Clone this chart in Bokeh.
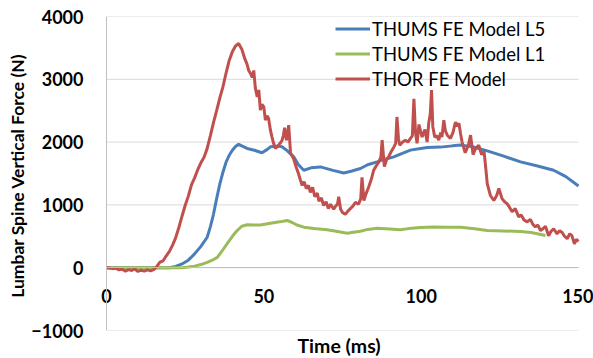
from bokeh.plotting import figure
from bokeh.models import Range1d, FixedTicker, Title, Legend, LegendItem, Span
from bokeh.embed import file_html
from bokeh.resources import INLINE

# ---- data ----
t_l5 = [0, 10, 20, 22, 24, 26, 28, 30, 32, 33, 34, 35, 36, 37, 38, 39, 40, 41, 42, 43,
        44.7, 47, 49.4, 51, 52.1, 54.2, 55.8, 57.5, 59.5, 61, 62.7, 65, 68, 72, 75.4, 78,
        80.7, 83, 86, 88, 91.3, 94, 96.6, 99.8, 102, 106, 110, 112.5, 116, 121, 126,
        131.6, 137, 142.1, 146, 150]
f_l5 = [0, 0, 0, 20, 60, 120, 220, 340, 485, 650, 850, 1100, 1330, 1520, 1680, 1790, 1870,
        1930, 1965, 1940, 1899, 1870, 1830, 1880, 1925, 1936, 1925, 1860, 1765, 1640, 1552,
        1590, 1605, 1550, 1509, 1540, 1579, 1640, 1685, 1720, 1765, 1820, 1872, 1899, 1915,
        1920, 1940, 1952, 1930, 1861, 1780, 1685, 1620, 1552, 1450, 1300]

t_l1 = [0, 10, 20, 24, 26, 28, 30, 32, 34, 35.2, 36.5, 38.3, 40, 41.5, 43, 44.7, 47, 48.9,
        52.1, 55, 57.4, 59, 60.5, 62.7, 66, 70.1, 73, 76.5, 78.5, 80.7, 83, 86, 90, 93.4,
        97, 99.8, 104, 108, 112.5, 117, 121, 126, 131.6, 135, 139.5]
f_l1 = [0, 0, 0, 0, 10, 25, 50, 85, 130, 165, 250, 379, 500, 592, 660, 683, 680, 680,
        709, 730, 752, 720, 680, 645, 625, 603, 580, 549, 565, 581, 610, 629, 615, 603,
        630, 640, 650, 645, 645, 620, 592, 585, 576, 560, 512]

t_thor = [0, 1, 2, 3, 4, 5, 6, 7, 8, 9, 10, 11, 12, 13, 14, 15, 16, 17, 18, 19,
          20, 21, 22, 23, 24, 25, 26, 27, 28, 29, 30, 31, 32, 33, 34, 35, 36, 37, 38, 39,
          40, 41, 42, 43, 44, 44.6, 45.2, 45.8, 46.3, 46.8, 47.3, 47.9, 48.4, 48.9, 49.4, 50,
          50.5, 51, 51.5, 52.1, 52.6, 53.1, 53.7, 54.3, 54.8, 55.3, 55.8, 56.2, 56.6, 57.2,
          57.6, 57.9, 58.5, 59, 59.5, 60.3, 61, 61.6, 62.2, 62.8, 63.5, 64.2, 64.8, 65.5,
          66.2, 67, 67.5, 68.3, 69, 69.8, 70.5, 71.2, 72.2, 72.8, 73.4, 73.8, 74.4, 75,
          75.9, 76.7, 77.5, 78.3, 79.1, 80.1, 80.8, 81.2, 81.8, 82.5, 83.3, 84.1, 84.9, 85.7,
          86.5, 87.2, 87.6, 88.3, 89, 89.7, 90.5, 91.3, 91.9, 92.3, 92.8, 93.2, 94.1, 95,
          95.8, 96.6, 97.2, 97.7, 98.2, 98.7, 99.3, 100.3, 101.2, 101.9, 102.4, 102.9, 103.3,
          103.7, 104.3, 105, 105.6, 106.2, 106.6, 107.2, 107.7, 108.3, 109.3, 110.1, 110.9,
          111.5, 112, 112.5, 113, 114, 115, 115.7, 116.5, 117.3, 118.3, 119.2, 120, 120.6,
          121, 122, 123.1, 124, 124.7, 125.7, 126.5, 127.3, 128.1, 128.9, 129.9, 131, 131.8,
          132.7, 133.7, 134.7, 135.5, 136.3, 137.1, 137.9, 138.7, 139.5, 140.5, 141.3, 142.1,
          143.2, 144, 144.8, 145.6, 146.4, 147.2, 147.9, 148.7, 149.3, 150]
f_thor = [0, -5, -15, -10, -35, -25, -55, -30, -45, -20, -60, -40, -55, -35, -50, -30, 20, 90, 110, 190,
          260, 360, 480, 640, 820, 990, 1140, 1320, 1430, 1560, 1670, 1760, 1900, 2100, 2310, 2500, 2700, 2880, 3100, 3300,
          3440, 3530, 3570, 3480, 3320, 3250, 3140, 3090, 3030, 3140, 2860, 2720, 2830, 2510, 2600, 2560,
          2350, 2420, 2380, 2190, 2080, 1980, 1900, 1930, 1960, 1990, 2030, 2100, 2230, 2030,
          2150, 2270, 1820, 1780, 1730, 1600, 1500, 1400, 1310, 1370, 1260, 1310, 1200, 1280,
          1130, 1190, 1060, 1110, 990, 1050, 940, 1010, 930, 980, 1010, 1130, 930, 880,
          850, 900, 940, 980, 1040, 1010, 1100, 1440, 1070, 1180, 1280, 1400, 1550, 1620,
          1680, 1760, 2030, 1610, 1720, 1770, 1850, 1920, 1980, 2400, 2050, 1950, 2000, 2030,
          2000, 2060, 2100, 2690, 2150, 1980, 2280, 2080, 2200, 2000, 2300, 2450, 2830,
          2250, 2080, 2100, 2030, 2150, 2080, 2350, 2180, 2110, 2060, 2150, 2320,
          2250, 2300, 2140, 2000, 1830, 1950, 2110, 1800, 1900, 1950, 1800, 1850, 1550,
          1340, 1150, 1070, 1150, 1260, 1100, 1050, 1020, 960, 890, 940, 810, 840,
          760, 730, 770, 690, 650, 680, 590, 620, 660, 510, 580, 620,
          540, 590, 560, 500, 460, 540, 510, 380, 450, 420]

x_ticks = [0, 50, 100, 150]
y_ticks = [-1000, 0, 1000, 2000, 3000, 4000]
x_min, x_max = 0, 150
series_names = ["THUMS FE Model L5", "THUMS FE Model L1", "THOR FE Model"]
colors = ["#4A7EBB", "#9BBB59", "#C0504D"]

FONT = "Lato"
TICK_SIZE = "18px"
GRID = "#D9D9D9"
AXIS = "#BFBFBF"

# frame is padded a little on both sides so the end tick labels are not clipped
p = figure(width=593, height=358, output_backend="svg", toolbar_location=None,
           x_range=Range1d(-2.86, 154.77), y_range=Range1d(-1000, 4000),
           min_border_left=97, min_border_right=0, min_border_top=16,
           min_border_bottom=0)
p.outline_line_color = None
p.background_fill_color = "white"
p.border_fill_color = "white"

# horizontal gridlines limited to the data x extent
p.xgrid.grid_line_color = None
p.ygrid.grid_line_color = None
p.segment(x0=[x_min] * len(y_ticks), y0=y_ticks, x1=[x_max] * len(y_ticks), y1=y_ticks,
          line_color=GRID, line_width=1)

# vertical axis line at x = 0
p.add_layout(Span(location=x_min, dimension="height", line_color=AXIS, line_width=1))

# y axis (labels only)
p.yaxis.ticker = FixedTicker(ticks=y_ticks)
p.yaxis.axis_line_color = None
p.yaxis.major_tick_line_color = None
p.yaxis.minor_tick_line_color = None
p.yaxis.major_tick_out = 0
p.yaxis.major_label_text_font = FONT
p.yaxis.major_label_text_font_style = "bold"
p.yaxis.major_label_text_font_size = TICK_SIZE
p.yaxis.major_label_text_color = "black"
p.yaxis.major_label_standoff = 14
p.yaxis.axis_label = "Lumbar Spine Vertical Force  (N)"
p.yaxis.axis_label_text_font = FONT
p.yaxis.axis_label_text_font_style = "bold"
p.yaxis.axis_label_text_font_size = "17.5px"
p.yaxis.axis_label_text_color = "black"
p.yaxis.axis_label_standoff = 0

# x axis drawn at y = 0
p.xaxis.ticker = FixedTicker(ticks=x_ticks)
p.xaxis.fixed_location = 0
p.xaxis.bounds = (x_min, x_max)
p.xaxis.axis_line_color = AXIS
p.xaxis.major_tick_line_color = None
p.xaxis.minor_tick_line_color = None
p.xaxis.major_tick_out = 0
p.xaxis.major_label_text_font = FONT
p.xaxis.major_label_text_font_style = "bold"
p.xaxis.major_label_text_font_size = TICK_SIZE
p.xaxis.major_label_text_color = "black"
p.xaxis.major_label_standoff = 21

p.add_layout(Title(text="Time (ms)", align="left", offset=200, text_font=FONT,
                   text_font_style="bold", text_font_size="19.5px",
                   text_color="black", standoff=3), "below")

r1 = p.line(t_l5, f_l5, line_color=colors[0], line_width=3)
r2 = p.line(t_l1, f_l1, line_color=colors[1], line_width=3)
r3 = p.line(t_thor, f_thor, line_color=colors[2], line_width=3)

legend = Legend(items=[LegendItem(label=series_names[0], renderers=[r1]),
                       LegendItem(label=series_names[1], renderers=[r2]),
                       LegendItem(label=series_names[2], renderers=[r3])],
                location=(238, 239), orientation="vertical",
                label_text_font=FONT, label_text_font_size="18.5px",
                label_text_color="black", glyph_width=35, glyph_height=25,
                label_height=25, label_standoff=2, spacing=0, padding=0,
                margin=0, border_line_color=None, background_fill_alpha=0)
p.add_layout(legend)

open("out.html", "w").write(file_html(p, INLINE))
